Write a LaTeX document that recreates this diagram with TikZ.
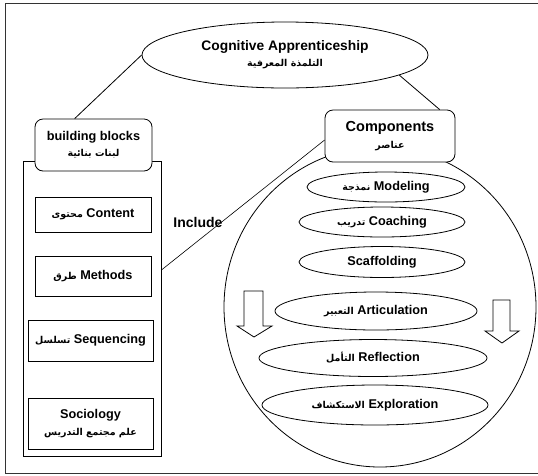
\documentclass[tikz,border=0pt]{standalone}
\usepackage{fontspec}
\setmainfont{Liberation Sans}
\newfontfamily\arabicfont[Script=Arabic]{DejaVu Sans}
\TeXXeTstate=1
\usetikzlibrary{shapes.geometric,calc}
\newcommand{\artxt}[1]{{\arabicfont\fontsize{9.5}{11}\selectfont\beginR #1\endR}}
\begin{document}
\begin{tikzpicture}[x=1pt,y=-1pt,
  every node/.style={font=\bfseries\fontsize{12.7}{15}\selectfont, inner sep=0pt},
  line/.style={draw=black, line width=0.8pt},
  box/.style={line, rectangle, fill=white, align=center},
  rbox/.style={box, rounded corners=8pt},
  oval/.style={line, ellipse, fill=white, align=center},
  blockarrow/.style={line, fill=white, line join=miter}]
\useasboundingbox (0,0) rectangle (538,475);
% frame
\draw[line width=1pt, draw=black!80] (538,3) -- (5,3) -- (5,473) -- (538,473);
% big circle of components
\node[line, ellipse, minimum width=312pt, minimum height=320pt] (ring) at (380,307) {};
% left column
\node[box, minimum width=138pt, minimum height=295pt] (col) at (92,308.5) {};
% title
\node[oval, minimum width=286pt, minimum height=66pt] (title) at (285,55)
  {\fontsize{13.8}{16}\selectfont Cognitive Apprenticeship\\[1pt] \artxt{التلمذة المعرفية}};
% header boxes
\node[rbox, minimum width=117pt, minimum height=52pt] (bb) at (93.5,145)
  {building blocks\\[1pt] \artxt{لبنات بنائية}};
\node[rbox, minimum width=130pt, minimum height=52pt] (comp) at (390,136)
  {\fontsize{14.5}{17}\selectfont Components\\[2pt] \artxt{عناصر}};
% building blocks
\node[box, minimum width=116pt, minimum height=35pt] (content) at (93,214.5)
  {\artxt{محتوى} Content};
\node[box, minimum width=116pt, minimum height=40pt] (methods) at (93,276)
  {\artxt{طرق} Methods};
\node[box, minimum width=125pt, minimum height=41pt] (seq) at (90.5,340.5)
  {\artxt{تسلسل} Sequencing};
\node[box, minimum width=125pt, minimum height=51pt] (soc) at (90.5,423.5)
  {Sociology\\[2pt] \artxt{علم مجتمع التدريس}};
% components
\node[oval, minimum width=158pt, minimum height=30pt] (model) at (386,187)
  {\artxt{نمذجة} Modeling};
\node[oval, minimum width=166pt, minimum height=30pt] (coach) at (382,222)
  {\artxt{تدريب} Coaching};
\node[oval, minimum width=166pt, minimum height=31pt] (scaf) at (382,262)
  {Scaffolding};
\node[oval, minimum width=202pt, minimum height=38pt] (artic) at (376,311)
  {\artxt{التعبير} Articulation};
\node[oval, minimum width=228pt, minimum height=37pt] (refl) at (373,358)
  {\artxt{التأمل} Reflection};
\node[oval, minimum width=226pt, minimum height=40pt] (explo) at (375,405)
  {\artxt{الاستكشاف} Exploration};
% down arrows
\draw[blockarrow] (244,291) -- (263,291) -- (263,326) -- (272,326) -- (254,337)
  -- (237,326) -- (244,326) -- cycle;
\draw[blockarrow] (493,300) -- (510,300) -- (510,331) -- (519,331) -- (502,343)
  -- (485,331) -- (493,331) -- cycle;
% connectors
\draw[line] (title.west) -- ($(bb.north west)!0.34!(bb.north east)$);
\draw[line] (title.-10) -- ($(comp.north west)!0.88!(comp.north east)$);
\coordinate (incA) at (col.east |- 0,270);
\coordinate (incB) at (comp.west |- 0,140);
\draw[line width=0.6pt] (incA) -- (incB);
\node[font=\bfseries\fontsize{14}{16}\selectfont] (inc) at (198,222) {Include};
\end{tikzpicture}
\end{document}
